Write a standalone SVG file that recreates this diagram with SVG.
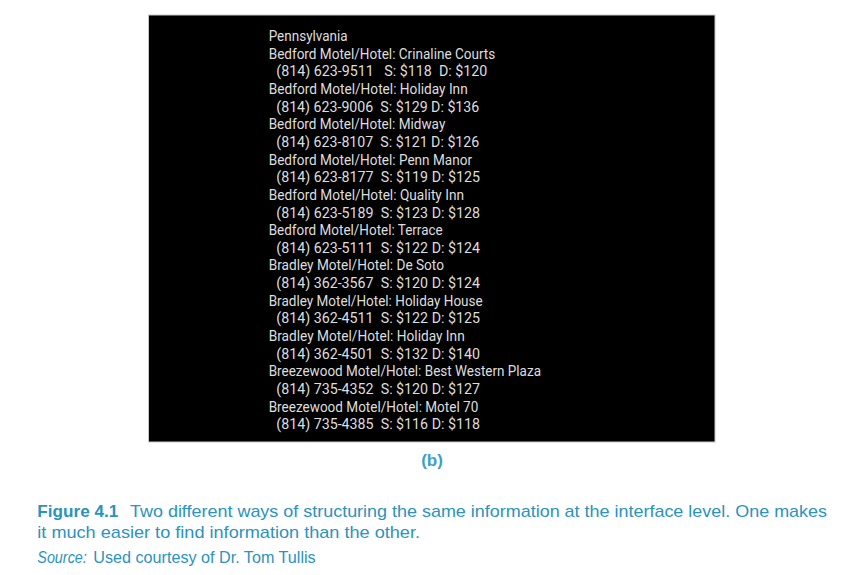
<svg xmlns="http://www.w3.org/2000/svg" width="844" height="575" viewBox="0 0 844 575">
<style>
.l{font-family:Roboto,"Liberation Sans",sans-serif;font-size:15.5px;fill:#dedede;white-space:pre}
.c{font-family:"Liberation Sans",Arial,sans-serif;font-size:17px;fill:#2a93c0;white-space:pre}
.s{font-family:"Liberation Sans",Arial,sans-serif;font-size:16.5px;fill:#2a93c0;white-space:pre}
</style>
<rect width="844" height="575" fill="#ffffff"/>
<g id="panel">
<rect x="148.5" y="15" width="566.5" height="427" fill="#000" stroke="#c8c8c8" stroke-width="1"/>
<text class="l" x="268.7" y="41" textLength="79" lengthAdjust="spacingAndGlyphs">Pennsylvania</text>
<text class="l" x="268.7" y="58.65" textLength="226.6" lengthAdjust="spacingAndGlyphs">Bedford Motel/Hotel: Crinaline Courts</text>
<text class="l" x="276.3" y="76.3" textLength="211" lengthAdjust="spacingAndGlyphs">(814) 623-9511   S: $118  D: $120</text>
<text class="l" x="268.7" y="93.95" textLength="199" lengthAdjust="spacingAndGlyphs">Bedford Motel/Hotel: Holiday Inn</text>
<text class="l" x="276.3" y="111.6" textLength="203" lengthAdjust="spacingAndGlyphs">(814) 623-9006  S: $129 D: $136</text>
<text class="l" x="268.7" y="129.25" textLength="176.6" lengthAdjust="spacingAndGlyphs">Bedford Motel/Hotel: Midway</text>
<text class="l" x="276.3" y="146.9" textLength="203" lengthAdjust="spacingAndGlyphs">(814) 623-8107  S: $121 D: $126</text>
<text class="l" x="268.7" y="164.55" textLength="203.3" lengthAdjust="spacingAndGlyphs">Bedford Motel/Hotel: Penn Manor</text>
<text class="l" x="276.3" y="182.2" textLength="203.7" lengthAdjust="spacingAndGlyphs">(814) 623-8177  S: $119 D: $125</text>
<text class="l" x="268.7" y="199.85" textLength="195.3" lengthAdjust="spacingAndGlyphs">Bedford Motel/Hotel: Quality Inn</text>
<text class="l" x="276.3" y="217.5" textLength="203.7" lengthAdjust="spacingAndGlyphs">(814) 623-5189  S: $123 D: $128</text>
<text class="l" x="268.7" y="235.15" textLength="174" lengthAdjust="spacingAndGlyphs">Bedford Motel/Hotel: Terrace</text>
<text class="l" x="276.3" y="252.8" textLength="203.7" lengthAdjust="spacingAndGlyphs">(814) 623-5111  S: $122 D: $124</text>
<text class="l" x="268.7" y="270.45" textLength="175.3" lengthAdjust="spacingAndGlyphs">Bradley Motel/Hotel: De Soto</text>
<text class="l" x="276.3" y="288.1" textLength="203.7" lengthAdjust="spacingAndGlyphs">(814) 362-3567  S: $120 D: $124</text>
<text class="l" x="268.7" y="305.75" textLength="214" lengthAdjust="spacingAndGlyphs">Bradley Motel/Hotel: Holiday House</text>
<text class="l" x="276.3" y="323.4" textLength="203.7" lengthAdjust="spacingAndGlyphs">(814) 362-4511  S: $122 D: $125</text>
<text class="l" x="268.7" y="341.05" textLength="196" lengthAdjust="spacingAndGlyphs">Bradley Motel/Hotel: Holiday Inn</text>
<text class="l" x="276.3" y="358.7" textLength="203.7" lengthAdjust="spacingAndGlyphs">(814) 362-4501  S: $132 D: $140</text>
<text class="l" x="268.7" y="376.35" textLength="272.3" lengthAdjust="spacingAndGlyphs">Breezewood Motel/Hotel: Best Western Plaza</text>
<text class="l" x="276.3" y="394" textLength="203.7" lengthAdjust="spacingAndGlyphs">(814) 735-4352  S: $120 D: $127</text>
<text class="l" x="268.7" y="411.65" textLength="209.6" lengthAdjust="spacingAndGlyphs">Breezewood Motel/Hotel: Motel 70</text>
<text class="l" x="276.3" y="429.3" textLength="203.7" lengthAdjust="spacingAndGlyphs">(814) 735-4385  S: $116 D: $118</text>
</g>
<g id="label-b">
<text x="432" y="466" text-anchor="middle" style="font-family:'Liberation Sans',Arial,sans-serif;font-size:17px;font-weight:bold;fill:#3aa0c8">(b)</text>
</g>
<g id="caption">
<text class="c" x="37.3" y="516.7" textLength="81" lengthAdjust="spacingAndGlyphs" font-weight="bold">Figure 4.1</text>
<text class="c" x="130" y="516.7" textLength="697" lengthAdjust="spacingAndGlyphs">Two different ways of structuring the same information at the interface level. One makes</text>
<text class="c" x="37.3" y="537.5" textLength="382.7" lengthAdjust="spacingAndGlyphs">it much easier to find information than the other.</text>
<text class="s" x="37.3" y="563.3" textLength="49.5" lengthAdjust="spacingAndGlyphs" font-style="italic">Source:</text>
<text class="s" x="93.3" y="563.3" textLength="222.4" lengthAdjust="spacingAndGlyphs">Used courtesy of Dr. Tom Tullis</text>
</g>
</svg>
